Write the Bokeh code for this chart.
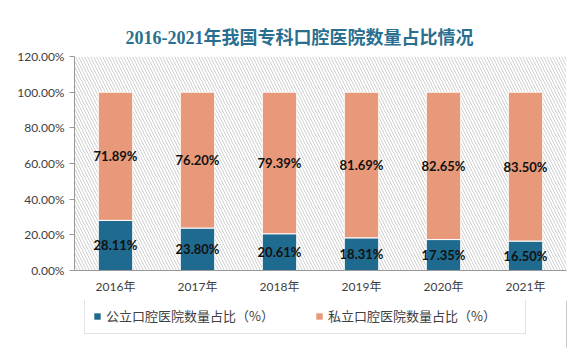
from bokeh.plotting import figure
from bokeh.layouts import column
from bokeh.models import (ColumnDataSource, Legend, LegendItem, Range1d, FactorRange,
                          NumeralTickFormatter, BoxAnnotation, Title, LabelSet, FixedTicker)
from bokeh.embed import file_html
from bokeh.resources import INLINE
from bokeh.core.properties import value

years = ["2016年", "2017年", "2018年", "2019年", "2020年", "2021年"]
public_share = [28.11, 23.80, 20.61, 18.31, 17.35, 16.50]
private_share = [71.89, 76.20, 79.39, 81.69, 82.65, 83.50]
series_names = ["公立口腔医院数量占比（%）", "私立口腔医院数量占比（%）"]
y_ticks = [0, 20, 40, 60, 80, 100, 120]
title_text = "2016-2021年我国专科口腔医院数量占比情况"

BLUE = "#1f6b8f"
ORANGE = "#e8997a"

src = ColumnDataSource(dict(
    x=years,
    pub=[v / 100 for v in public_share],
    top=[(a + b) / 100 for a, b in zip(public_share, private_share)],
    pub_mid=[v / 200 for v in public_share],
    pri_mid=[(a + b / 2) / 100 for a, b in zip(public_share, private_share)],
    pub_lbl=["%.2f%%" % v for v in public_share],
    pri_lbl=["%.2f%%" % v for v in private_share],
))

p = figure(width=580, height=300, x_range=FactorRange(*years), y_range=Range1d(0, 1.2),
           output_backend="svg", toolbar_location=None,
           min_border_left=74, min_border_right=14, min_border_top=56, min_border_bottom=30)

# hatched plot area
p.add_layout(BoxAnnotation(fill_color="white", fill_alpha=1, line_alpha=0,
                           hatch_pattern="\\", hatch_color="#cfcfcf", hatch_scale=6,
                           hatch_weight=1, level="underlay"))

r1 = p.vbar(x="x", top="pub", bottom=0, width=0.42, source=src, fill_color=BLUE,
            line_color="white", line_width=1)
r2 = p.vbar(x="x", top="top", bottom="pub", width=0.42, source=src, fill_color=ORANGE,
            line_color="white", line_width=1)

for ycol, tcol in (("pub_mid", "pub_lbl"), ("pri_mid", "pri_lbl")):
    p.add_layout(LabelSet(x="x", y=ycol, text=tcol, source=src, text_align="center",
                          text_baseline="middle", text_font=value("Lato"),
                          text_font_style="bold", text_font_size="13px", text_color="#111111"))

p.yaxis.ticker = FixedTicker(ticks=[t / 100 for t in y_ticks])
p.yaxis.formatter = NumeralTickFormatter(format="0.00%")
for ax in (p.xaxis, p.yaxis):
    ax.axis_line_color = "#999999"
    ax.major_tick_line_color = "#999999"
    ax.major_label_text_font = "Lato, Noto Sans CJK SC"
    ax.major_label_text_font_size = "12px"
    ax.major_label_text_color = "#404040"
    ax.minor_tick_line_color = None
p.yaxis.major_tick_out = 5
p.yaxis.major_tick_in = 0
p.xaxis.major_tick_in = 0
p.xaxis.major_tick_out = 0
p.xaxis.major_label_standoff = 8
p.xgrid.grid_line_color = None
p.ygrid.grid_line_color = None
p.outline_line_color = None
p.x_range.range_padding = 0
p.x_range.factor_padding = 0

p.add_layout(Title(text=title_text, align="left", offset=51, standoff=18,
                   text_font="Liberation Serif, Noto Sans CJK SC", text_font_size="18px",
                   text_font_style="bold", text_color="#2a6f8f"), "above")

# legend strip below the chart
lf = figure(width=580, height=48, output_backend="svg", toolbar_location=None,
            min_border=0, min_border_left=0, min_border_right=0,
            x_axis_location=None, y_axis_location=None,
            x_range=Range1d(0, 1), y_range=Range1d(0, 1))
lf.grid.visible = False
lf.outline_line_color = None
d1 = lf.vbar(x=[5], top=[5], width=0.1, fill_color=BLUE, line_color=None)
d2 = lf.vbar(x=[5], top=[5], width=0.1, fill_color=ORANGE, line_color=None)

legend = Legend(items=[LegendItem(label=series_names[0], renderers=[d1]),
                       LegendItem(label=series_names[1], renderers=[d2])],
                orientation="horizontal", location=(10, 14),
                glyph_width=8, glyph_height=8, label_standoff=5, label_width=189,
                spacing=20, padding=8, margin=0,
                label_text_font="Noto Sans CJK SC", label_text_font_size="13px",
                label_text_color="#404040", border_line_color="#c8c8c8",
                background_fill_alpha=1)
lf.add_layout(legend, "center")

layout = column(p, lf, spacing=0)
open("out.html", "w").write(file_html(layout, INLINE))
